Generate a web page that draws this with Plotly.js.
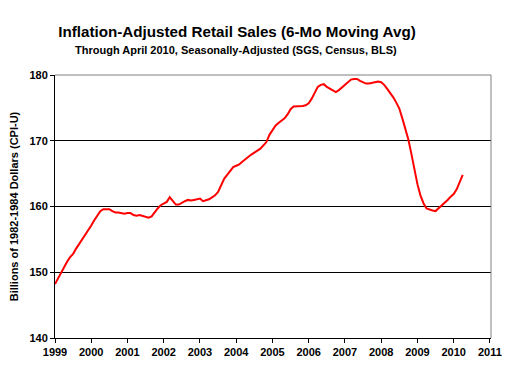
<!DOCTYPE html>
<html>
<head>
<meta charset="utf-8">
<script src="https://cdn.plot.ly/plotly-3.0.1.min.js"></script>
<style>html,body{margin:0;padding:0;background:#fff;}#chart{width:507px;height:382px;}</style>
</head>
<body>
<div id="chart"></div>
<script>
// Monthly 6-month moving average, Jan 1999 .. Apr 2010 (billions of 1982-84 dollars)
var startYear = 1999;
var salesValues = [
 148.2,149.1,150.0,150.9,151.6,152.3,152.8,153.6,154.3,154.8,155.5,156.2, // 1999
 157.1,157.9,158.7,159.3,159.6,159.6,159.6,159.3,159.1,159.1,159.0,158.9, // 2000
 159.0,159.0,158.7,158.6,158.7,158.6,158.4,158.3,158.5,159.2,159.7,160.2, // 2001
 160.5,160.7,161.4,160.8,160.3,160.3,160.6,160.8,161.0,160.9,161.0,161.1, // 2002
 161.2,160.8,160.9,161.1,161.4,161.7,162.2,163.3,164.2,164.8,165.4,166.0, // 2003
 166.2,166.4,166.8,167.2,167.6,167.9,168.2,168.5,168.8,169.3,169.8,170.9, // 2004
 171.7,172.3,172.7,173.0,173.4,174.0,174.8,175.2,175.2,175.2,175.3,175.4, // 2005
 175.7,176.4,177.4,178.2,178.5,178.6,178.2,177.9,177.6,177.4,177.7,178.1, // 2006
 178.4,178.8,179.3,179.4,179.4,179.1,178.9,178.7,178.7,178.8,178.8,179.0, // 2007
 178.9,178.5,177.9,177.3,176.6,175.8,174.9,173.4,171.8,170.2,168.0,165.5, // 2008
 163.4,161.7,160.5,159.7,159.5,159.4,159.3,159.7,160.2,160.5,161.0,161.5, // 2009
 161.9,162.6,163.8,164.8                                                  // 2010
];
var xTickVals = [1999,2000,2001,2002,2003,2004,2005,2006,2007,2008,2009,2010,2011];
var xTickText = ["1999","2000","2001","2002","2003","2004","2005","2006","2007","2008","2009","2010","2011"];
var yTickVals = [140,150,160,170,180];
var yTickText = ["140","150","160","170","180"];

var xs = salesValues.map(function(v,i){ return startYear + i/12; });

var FONT = "Arial, 'Liberation Sans', Helvetica, sans-serif";

var trace = {
  x: xs, y: salesValues, type: 'scatter', mode: 'lines',
  line: {color: '#ff0000', width: 2}, hoverinfo: 'skip'
};

var layout = {
  width: 507, height: 382,
  margin: {l: 55, r: 16, t: 75, b: 44},
  paper_bgcolor: '#ffffff', plot_bgcolor: '#ffffff',
  showlegend: false,
  font: {family: FONT, color: '#000000'},
  title: {
    text: '<b>Inflation-Adjusted Retail Sales (6-Mo Moving Avg)</b>',
    font: {family: FONT, size: 15.2, color: '#000000'},
    xref: 'container', yref: 'container',
    x: 237/507, xanchor: 'center',
    y: 1 - 32/382, yanchor: 'middle'
  },
  annotations: [{
    text: '<b>Through April 2010, Seasonally-Adjusted (SGS, Census, BLS)</b>',
    xref: 'paper', yref: 'paper',
    x: (236-55)/436, xanchor: 'center',
    y: (338-50)/263, yanchor: 'middle',
    showarrow: false,
    font: {family: FONT, size: 11, color: '#000000'}
  }],
  xaxis: {
    range: [1999, 2011.03],
    tickmode: 'array', tickvals: xTickVals, ticktext: xTickText,
    showgrid: false, zeroline: false,
    showline: true, linecolor: '#000000', linewidth: 1,
    ticks: 'outside', ticklen: 4, tickcolor: '#000000', tickwidth: 1,
    tickfont: {family: FONT, size: 11, color: '#000000', weight: 'bold'},
    fixedrange: true
  },
  yaxis: {
    range: [140, 180],
    tickmode: 'array', tickvals: yTickVals, ticktext: yTickText,
    showgrid: true, gridcolor: '#000000', gridwidth: 1,
    zeroline: false,
    showline: true, linecolor: '#000000', linewidth: 1,
    ticks: 'outside', ticklen: 4, tickcolor: '#000000', tickwidth: 1,
    tickfont: {family: FONT, size: 11, color: '#000000', weight: 'bold'},
    title: {
      text: '<b>Billions of 1982-1984 Dollars (CPI-U)</b>',
      font: {family: FONT, size: 11, color: '#000000'},
      standoff: 8
    },
    fixedrange: true
  },
  shapes: [
    {type: 'line', xref: 'paper', yref: 'paper', x0: 0, x1: 1, y0: 1, y1: 1,
     line: {color: '#808080', width: 1}, layer: 'above'},
    {type: 'line', xref: 'paper', yref: 'paper', x0: 1, x1: 1, y0: 0, y1: 1,
     line: {color: '#808080', width: 1}, layer: 'above'}
  ]
};

Plotly.newPlot('chart', [trace], layout, {displayModeBar: false, staticPlot: true});
</script>
</body>
</html>
